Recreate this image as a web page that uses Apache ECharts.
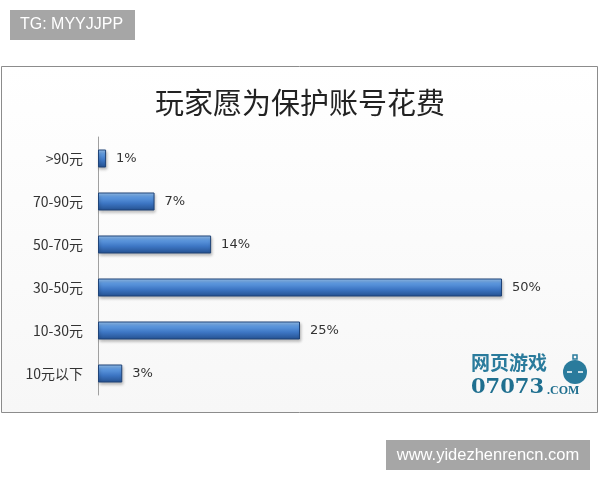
<!DOCTYPE html>
<html>
<head>
<meta charset="utf-8">
<script src="https://cdn.jsdelivr.net/npm/echarts@6/dist/echarts.min.js"></script>
<style>
html,body{margin:0;padding:0;background:#fff;}
#main{width:600px;height:480px;}
</style>
</head>
<body>
<div id="main"></div>
<script>
var categories = ['>90元', '70-90元', '50-70元', '30-50元', '10-30元', '10元以下'];
var values = [1, 7, 14, 50, 25, 3];
var titleText = '玩家愿为保护账号花费';

var chart = echarts.init(document.getElementById('main'));
var barColor = new echarts.graphic.LinearGradient(0, 0, 0, 1, [
  {offset: 0, color: '#9cc6f2'},
  {offset: 0.25, color: '#5f9ae0'},
  {offset: 0.6, color: '#3d76c4'},
  {offset: 1, color: '#24508f'}
]);
chart.setOption({
  backgroundColor: '#ffffff',
  animation: false,
  title: {
    text: titleText,
    left: 'center',
    top: 83,
    textStyle: {fontFamily: 'Noto Sans CJK SC', fontSize: 29, fontWeight: 'normal', color: '#222'}
  },
  grid: {left: 98, top: 137, width: 404, height: 258, containLabel: false},
  xAxis: {type: 'value', min: 0, max: 50, show: false},
  yAxis: {
    type: 'category',
    data: categories,
    inverse: true,
    axisLine: {lineStyle: {color: '#a0a0a0', width: 1}},
    axisTick: {show: false},
    axisLabel: {margin: 15, fontFamily: 'Noto Sans CJK SC', fontSize: 14, color: '#333'}
  },
  series: [{
    type: 'bar',
    data: values,
    barWidth: 18,
    itemStyle: {
      color: barColor,
      borderColor: '#1f4377',
      borderWidth: 1,
      shadowColor: 'rgba(0,0,0,0.25)',
      shadowBlur: 3,
      shadowOffsetX: 1,
      shadowOffsetY: 2
    },
    label: {
      show: true,
      position: 'right',
      distance: 10,
      formatter: '{c}%',
      fontFamily: 'DejaVu Sans',
      fontSize: 13,
      color: '#333'
    }
  }],
  graphic: [
    {type: 'rect', z: -10, shape: {x: 1.5, y: 66.5, width: 596, height: 346},
     style: {fill: new echarts.graphic.LinearGradient(0, 0, 0, 1, [{offset: 0, color: '#ffffff'}, {offset: 1, color: '#f7f7f7'}]), stroke: '#8c8c8c', lineWidth: 1}},
    {type: 'rect', shape: {x: 10, y: 10, width: 125, height: 30}, style: {fill: '#a6a6a6'}},
    {type: 'text', x: 20, y: 25, style: {text: 'TG: MYYJJPP', fill: '#ffffff', font: '16px "Liberation Sans", Arial', textVerticalAlign: 'middle'}},
    {type: 'rect', shape: {x: 386, y: 440, width: 204, height: 30}, style: {fill: '#a6a6a6'}},
    {type: 'text', x: 488, y: 455, style: {text: 'www.yidezhenrencn.com', fill: '#ffffff', font: '16.5px "Liberation Sans", Arial', textAlign: 'center', textVerticalAlign: 'middle'}},
    {type: 'text', x: 471, y: 363, style: {text: '网页游戏', fill: '#2a7b9c', font: 'bold 19px "Noto Sans CJK SC"', textVerticalAlign: 'middle'}},
    {type: 'text', x: 471, y: 388, style: {text: '07073', fill: '#1f6f8f', font: 'bold 21px "DejaVu Serif", serif', textVerticalAlign: 'middle'}},
    {type: 'text', x: 547, y: 391, style: {text: '.COM', fill: '#1f6f8f', font: 'bold 12px "Liberation Serif", serif', textVerticalAlign: 'middle'}},
    {type: 'circle', shape: {cx: 575, cy: 372, r: 12}, style: {fill: '#2a7b9c'}},
    {type: 'rect', shape: {x: 573, y: 355, width: 4, height: 4}, style: {fill: 'none', stroke: '#2a7b9c', lineWidth: 1.5}},
    {type: 'line', shape: {x1: 567, y1: 372, x2: 572, y2: 372}, style: {stroke: '#ffffff', lineWidth: 1.5}},
    {type: 'line', shape: {x1: 578, y1: 372, x2: 583, y2: 372}, style: {stroke: '#ffffff', lineWidth: 1.5}}
  ]
});
</script>
</body>
</html>
